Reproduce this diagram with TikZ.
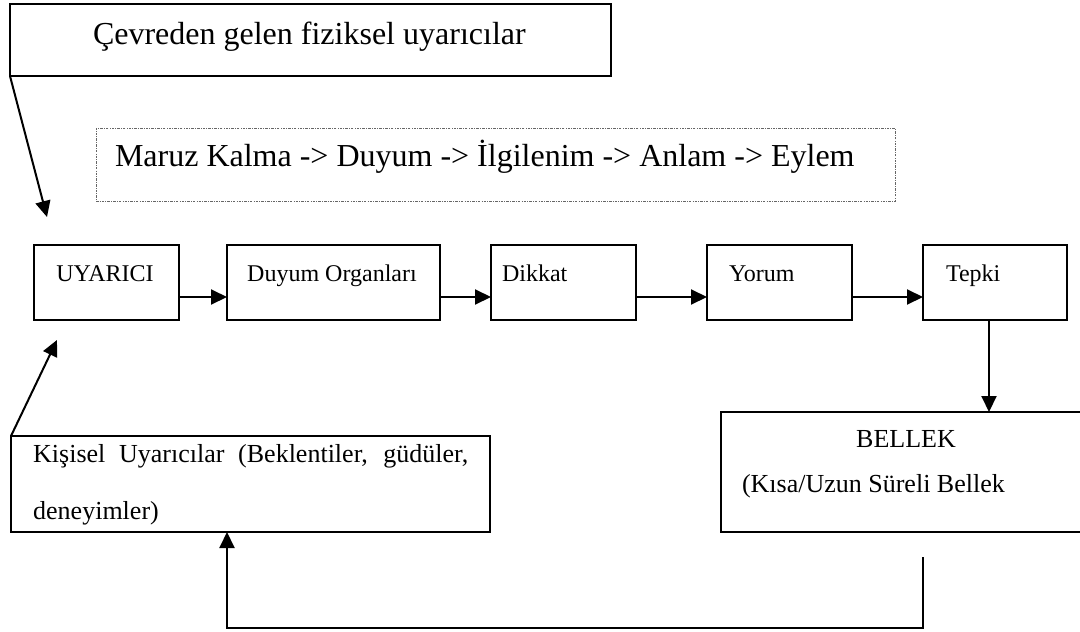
\documentclass[tikz,border=0pt]{standalone}
\usepackage{fontspec}
\setmainfont{Liberation Serif}
\usetikzlibrary{arrows.meta}
\newcommand\fbig{\fontsize{32}{38}\selectfont}
\newcommand\fmid{\fontsize{26}{57}\selectfont}
\newcommand\fsml{\fontsize{24}{28}\selectfont}
\tikzset{
  box/.style={draw=black, line width=2pt, rectangle, inner sep=0pt, outer sep=0pt, fill=none},
  dotbox/.style={draw=black!60, line width=0.9pt, dash pattern=on 2.5pt off 1.2pt on 0.8pt off 1.2pt, rectangle, inner sep=0pt, outer sep=0pt},
  arr/.style={line width=2pt, -{Triangle[length=16pt,width=15pt]}},
  txt/.style={inner sep=0pt, outer sep=0pt, anchor=base west},
}
\begin{document}
\begin{tikzpicture}[x=1pt, y=-1pt]
\path[use as bounding box, clip] (0,0) rectangle (1080,632);
% top box
\node[box, minimum width=601pt, minimum height=72pt, anchor=north west] (env) at (10,4) {};
\node[txt, font=\fbig] (envt) at (93,44) {Çevreden gelen fiziksel uyarıcılar};
% dotted box
\node[dotbox, minimum width=799pt, minimum height=73pt, anchor=north west] (seq) at (96,128) {};
\node[txt, font=\fbig] (seqt) at (115,166) {Maruz Kalma -> Duyum -> İlgilenim -> Anlam -> Eylem};
% row boxes
\node[box, minimum width=145pt, minimum height=75pt, anchor=north west] (uy) at (34,245) {};
\node[inner sep=0pt, anchor=base, font=\fsml] (uyt) at (105,281) {UYARICI};
\node[box, minimum width=213pt, minimum height=75pt, anchor=north west] (du) at (227,245) {};
\node[inner sep=0pt, anchor=base, font=\fsml] (dut) at (332,281) {Duyum Organları};
\node[box, minimum width=145pt, minimum height=75pt, anchor=north west] (di) at (491,245) {};
\node[txt, font=\fsml] (dit) at (502,281) {Dikkat};
\node[box, minimum width=145pt, minimum height=75pt, anchor=north west] (yo) at (707,245) {};
\node[txt, font=\fsml] (yot) at (729,281) {Yorum};
\node[box, minimum width=144pt, minimum height=75pt, anchor=north west] (te) at (923,245) {};
\node[txt, font=\fsml] (tet) at (946,281) {Tepki};
% BELLEK
\node[box, minimum width=380pt, minimum height=120pt, anchor=north west] (be) at (721,412) {};
\node[inner sep=0pt, anchor=base, font=\fmid] (bet1) at (906,447) {BELLEK};
\node[txt, font=\fmid] (bet2) at (742,492) {(Kısa/Uzun Süreli Bellek};
% Kisisel
\node[box, minimum width=479pt, minimum height=96pt, anchor=north west] (ki) at (11,436) {};
\node[inner sep=0pt, anchor=base west, font=\fmid, text width=435pt, align=justify] (kit) at (33,462)
  {\tolerance=10000 Kişisel Uyarıcılar (Beklentiler, güdüler, deneyimler)};
% coordinates
\coordinate (ay) at (0,297);
\coordinate (tx) at (989,0);
\coordinate (fb1) at (923,557);
\coordinate (fb2) at (923,628);
\coordinate (fx) at (227,0);
\coordinate (t1) at (47,217);
\coordinate (t2) at (57,340);
% connectors
\draw[arr] (uy.east |- ay) -- (du.west |- ay);
\draw[arr] (du.east |- ay) -- (di.west |- ay);
\draw[arr] (di.east |- ay) -- (yo.west |- ay);
\draw[arr] (yo.east |- ay) -- (te.west |- ay);
\draw[arr] (te.south -| tx) -- (be.north -| tx);
\draw[arr] (fb1) -- (fb2) -- (fb2 -| fx) -- (ki.south -| fx);
\draw[arr] (env.south west) -- (t1);
\draw[arr] (ki.north west) -- (t2);
\end{tikzpicture}
\end{document}
